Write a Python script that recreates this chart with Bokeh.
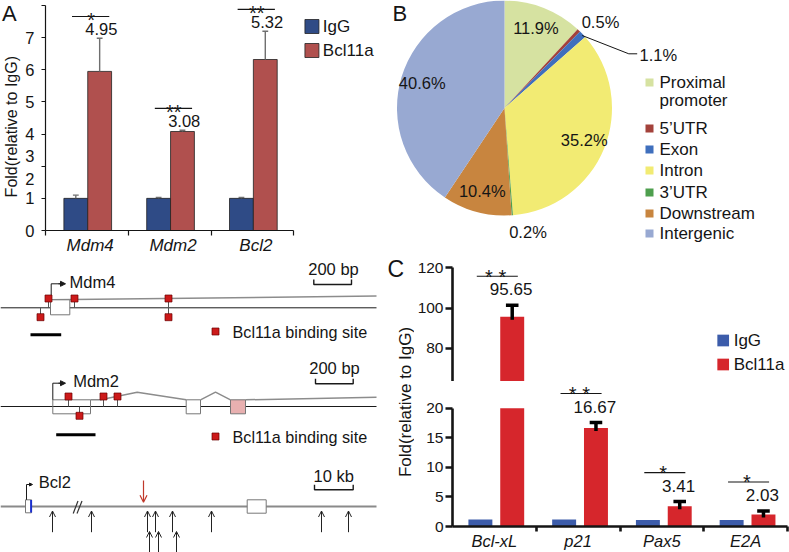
import numpy as np
from bokeh.plotting import figure
from bokeh.models import (Range1d, FixedTicker, Arrow, NormalHead, OpenHead, ColumnDataSource)
from bokeh.layouts import row, column
from bokeh.embed import file_html
from bokeh.resources import INLINE
from bokeh.core.properties import value

# ---------------------------------------------------------------- data
A_genes = ["Mdm4", "Mdm2", "Bcl2"]
A_igg = [1.0, 1.0, 1.0]
A_igg_err = [0.10, 0.03, 0.03]
A_bcl = [4.95, 3.08, 5.32]
A_bcl_err = [1.03, 0.04, 0.88]
A_bcl_labels = ["4.95", "3.08", "5.32"]
A_sig = ["*", "**", "**"]
A_tick_marks = [0, 1, 2, 3, 4, 5, 6, 7]
A_tick_label_pos = [0, 1, 1.6, 2.33, 3, 4, 5, 6]
A_tick_label_text = ["0", "1", "2", "3", "4", "5", "6", "7"]

B_categories = ["Proximal promoter", "5\u2019UTR", "Exon", "Intron", "3\u2019UTR",
                "Downstream", "Intergenic"]
B_percent = [11.9, 0.5, 1.1, 35.2, 0.2, 10.4, 40.6]
B_colors = ["#D6E2A1", "#A3423B", "#3F6FBD", "#F2EB73", "#4E9F4E", "#C8853F", "#98A9D2"]

C_genes = ["Bcl-xL", "p21", "Pax5", "E2A"]
C_igg = [1.2, 1.2, 1.1, 1.1]
C_bcl = [95.65, 16.67, 3.41, 2.03]
C_bcl_err = [5.7, 0.9, 0.8, 0.6]
C_bcl_labels = ["95.65", "16.67", "3.41", "2.03"]
C_sig = ["* *", "* *", "*", "*"]
C_lower_ticks = [0, 5, 10, 15, 20]
C_upper_ticks = [60, 80, 100, 120]

# schematic positions (scheme units)
MDM4_SITES_UP = [48, 74, 168]
MDM4_SITES_DOWN = [40, 168]
MDM2_SITES_UP = [68, 103, 117]
MDM2_SITES_DOWN = [79]
BCL2_ARROWS_ROW1 = [52, 91, 147, 155, 172, 211, 321, 348]
BCL2_ARROWS_ROW2 = [149, 158, 176]
BCL2_PEAK = [143]

# ---------------------------------------------------------------- helpers
FONT = "Liberation Sans"
INK = "#151515"


def fs(px):
    return f"{px:.1f}px"


def base_fig(w, h, xr, yr, **kw):
    p = figure(width=w, height=h, x_range=xr, y_range=yr, output_backend="svg",
               toolbar_location=None, tools="", **kw)
    p.outline_line_color = None
    p.grid.visible = False
    p.background_fill_color = "white"
    p.border_fill_color = "white"
    return p


def txt(p, x, y, text, size, align="left", baseline="middle", color=INK,
        style="normal", angle=0.0):
    p.text(x=x, y=y, text=text, text_font=value(FONT), text_font_size=fs(size),
           text_align=align, text_baseline=baseline, text_color=color,
           text_font_style=style, angle=angle)


def style_axis(ax, size, lw, tick_out, standoff, italic=False):
    ax.axis_label = None
    ax.axis_label_standoff = 0
    ax.axis_line_width = lw
    ax.axis_line_color = INK
    ax.major_tick_line_width = lw
    ax.major_tick_line_color = INK
    ax.major_tick_out = tick_out
    ax.major_tick_in = 0
    ax.minor_tick_line_width = lw
    ax.minor_tick_line_color = INK
    ax.minor_tick_in = 0
    ax.minor_tick_out = 0
    ax.major_label_text_font = FONT
    ax.major_label_text_font_size = fs(size)
    ax.major_label_text_color = INK
    ax.major_label_text_line_height = 1.0
    ax.major_label_standoff = standoff
    if italic:
        ax.major_label_text_font_style = "italic"


# ---------------------------------------------------------------- panel A
A_PXU, A_PYU, A_X0, A_Y0 = 83.3, 32.14, 43.0, 230.0


def ax_u(px):
    return (px - A_X0) / A_PXU + 0.46


def ay_u(py):
    return (A_Y0 - py) / A_PYU


wAL, hA = 22, 257
wA = 386 - wAL
# side strip with panel letter and y-axis title
pAL = base_fig(wAL, hA, Range1d(0, wAL), Range1d(hA, 0), min_border=0,
               x_axis_location=None, y_axis_location=None)
txt(pAL, [1.5], [1], ["A"], 22, baseline="top")
txt(pAL, [10.5], [141], ["Fold(relative to IgG)"], 16, align="center", angle=np.pi / 2)

pA = base_fig(wA, hA, Range1d(0.46, ax_u(386)), Range1d(0, ay_u(0)),
              min_border_left=round(A_X0) - wAL, min_border_right=0, min_border_top=0,
              min_border_bottom=hA - round(A_Y0))
ax_ = np.arange(1, len(A_genes) + 1)
igg_x = ax_ - 0.03 - 0.144
bcl_x = ax_ - 0.03 + 0.144
IGG_A, BCL_A = "#2F4B86", "#B0504E"
pA.vbar(x=igg_x, width=0.288, top=A_igg, bottom=0, fill_color=IGG_A, line_color="#222", line_width=0.8)
pA.vbar(x=bcl_x, width=0.288, top=A_bcl, bottom=0, fill_color=BCL_A, line_color="#222", line_width=0.8)
for xs, vals, errs in ((igg_x, A_igg, A_igg_err), (bcl_x, A_bcl, A_bcl_err)):
    v = np.array(vals); e = np.array(errs)
    pA.segment(x0=xs, y0=v, x1=xs, y1=v + e, line_color="#6f6f6f", line_width=1.4)
    pA.segment(x0=xs - 0.035, y0=v + e, x1=xs + 0.035, y1=v + e, line_color="#6f6f6f", line_width=1.4)
line_y = np.array(A_bcl) + np.array(A_bcl_err) + 0.68
pA.segment(x0=ax_ - 0.22, y0=line_y, x1=ax_ + 0.23, y1=line_y, line_color=INK, line_width=1.1)
txt(pA, list(ax_ + 0.01), list(line_y - 3.5 / A_PYU), A_sig, 20, align="center", baseline="alphabetic")
txt(pA, list(ax_ + 0.135), list(line_y - 0.38), A_bcl_labels, 16.5, align="center")
# legend
pA.rect(x=[ax_u(311)] * 2, y=[ay_u(26), ay_u(50)], width=14, height=14,
        width_units="screen", height_units="screen", fill_color=[IGG_A, BCL_A],
        line_color="#222", line_width=0.8)
txt(pA, [ax_u(322)] * 2, [ay_u(26), ay_u(50)], ["IgG", "Bcl11a"], 17)
# axes
xa = pA.xaxis[0]
style_axis(xa, 17, 1.2, 0, 0, italic=True)
xa.bounds = (0.46, 3.46)
xa.ticker = FixedTicker(ticks=list(ax_), minor_ticks=[0.46, 1.46, 2.46, 3.46])
xa.minor_tick_out = 5
xa.major_label_overrides = {int(i): g for i, g in zip(ax_, A_genes)}
ya = pA.yaxis[0]
style_axis(ya, 16.5, 1.2, 0, 7)
ya.bounds = (0, 7)
ya.ticker = FixedTicker(ticks=A_tick_label_pos, minor_ticks=A_tick_marks)
ya.minor_tick_out = 4
ya.major_label_overrides = dict(zip(A_tick_label_pos, A_tick_label_text))

# ---------------------------------------------------------------- schematics
wD, hD = 386, 552 - hA
pD = base_fig(wD, hD, Range1d(0, wD), Range1d(552, hA),
              min_border=0, x_axis_location=None, y_axis_location=None)
LINE, GRAY, SITE, SITE_LINE = "#1a1a1a", "#8c8c8c", "#CC1A1A", "#6b0000"


def sites(p, xs_up, xs_down, y_main, y_up, y_down):
    for x in xs_up:
        p.segment(x, y_up, x, y_main, line_color="#555", line_width=1)
    for x in xs_down:
        p.segment(x, y_main, x, y_down, line_color="#555", line_width=1)
    xs = list(xs_up) + list(xs_down)
    ys = [y_up] * len(xs_up) + [y_down] * len(xs_down)
    p.rect(x=xs, y=ys, width=7, height=7, fill_color=SITE, line_color=SITE_LINE, line_width=0.7)


def scalebar(p, label, xc, y_text, x0, x1, y_bar):
    txt(p, [xc], [y_text], [label], 16.5, align="center")
    p.line([x0, x0, x1, x1], [y_bar - 5, y_bar, y_bar, y_bar - 5], line_color=LINE, line_width=1.4)


# Mdm4
y4 = 307.3
pD.segment(0, y4, 376, y4, line_color=LINE, line_width=1)
pD.line([50, 376], [299.3, 295.5], line_color=GRAY, line_width=1.5)
pD.quad(left=50, right=69.3, top=299.3, bottom=314.3, fill_color="white", line_color="#777", line_width=1)
pD.line([50.7, 50.7, 60], [299.3, 283.3, 283.3], line_color=LINE, line_width=1)
pD.add_layout(Arrow(x_start=58, y_start=283.3, x_end=65, y_end=283.3, line_color=LINE, line_width=1,
                    end=NormalHead(size=5, fill_color=LINE, line_color=LINE)))
txt(pD, [69], [281.7], ["Mdm4"], 16.5)
sites(pD, MDM4_SITES_UP, MDM4_SITES_DOWN, y4, 298, 316.7)
pD.segment(30, 334.3, 60.7, 334.3, line_color="black", line_width=3)
pD.rect(x=[215], y=[331], width=7, height=7, fill_color=SITE, line_color=SITE_LINE, line_width=0.7)
txt(pD, [232], [331], ["Bcl11a binding site"], 16.2)
scalebar(pD, "200 bp", 333, 268, 313.3, 351, 284)

# Mdm2
y2 = 406
pD.segment(0, y2, 376, y2, line_color=LINE, line_width=1)
pD.quad(left=52.3, right=90, top=399.3, bottom=413.3, fill_alpha=0, line_color="#777", line_width=1)
pD.line([90, 100, 136.7, 185.7], [399.3, 399.3, 391.7, 399.3], line_color=GRAY, line_width=1.5)
pD.line([200, 215, 230], [399.3, 391.7, 399.3], line_color=GRAY, line_width=1.5)
pD.line([245, 376], [399.3, 396.7], line_color=GRAY, line_width=1.5)
pD.quad(left=185.7, right=200, top=399.3, bottom=413.3, fill_color="white", line_color="#777", line_width=1)
pD.quad(left=230, right=245, top=399.3, bottom=413.3, fill_color="#E8B0B0", line_color="#777", line_width=1)
pD.line([52.3, 52.3, 60], [399.3, 382.7, 382.7], line_color=LINE, line_width=1)
pD.add_layout(Arrow(x_start=58, y_start=382.7, x_end=65, y_end=382.7, line_color=LINE, line_width=1,
                    end=NormalHead(size=5, fill_color=LINE, line_color=LINE)))
txt(pD, [72.7], [380], ["Mdm2"], 16.5)
sites(pD, MDM2_SITES_UP, MDM2_SITES_DOWN, y2, 396, 415.3)
pD.segment(55.7, 434.3, 95, 434.3, line_color="black", line_width=3)
pD.rect(x=[215], y=[436], width=7, height=7, fill_color=SITE, line_color=SITE_LINE, line_width=0.7)
txt(pD, [232], [436], ["Bcl11a binding site"], 16.2)
scalebar(pD, "200 bp", 334, 367, 315, 352.7, 383.3)

# Bcl2
y3 = 506
pD.segment(0, y3, 376, y3, line_color="#8a8a8a", line_width=2)
pD.quad(left=25, right=31, top=499.3, bottom=512.3, fill_color="white", line_color="#777", line_width=1)
pD.segment(30.6, 499.6, 30.6, 512, line_color="#1a2ecc", line_width=2)
pD.line([26, 26, 29], [499.3, 484, 484], line_color=LINE, line_width=1)
pD.add_layout(Arrow(x_start=28, y_start=484, x_end=32, y_end=484, line_color=LINE, line_width=1,
                    end=NormalHead(size=3, fill_color=LINE, line_color=LINE)))
txt(pD, [38.3], [481.7], ["Bcl2"], 16.5)
pD.segment(x0=[72.7, 76.5], y0=[513, 513], x1=[77.5, 81.5], y1=[500.5, 500.5], line_color="#333", line_width=1.2)
pD.quad(left=246.7, right=265.7, top=499.3, bottom=512.7, fill_color="white", line_color="#777", line_width=1)
red_src = ColumnDataSource(dict(x=BCL2_PEAK, y0=[480] * len(BCL2_PEAK), y1=[501.7] * len(BCL2_PEAK)))
pD.add_layout(Arrow(x_start="x", y_start="y0", x_end="x", y_end="y1", source=red_src,
                    line_color="#C0392B", line_width=1.2,
                    end=OpenHead(size=7, line_color="#C0392B", line_width=1.2)))
r1 = ColumnDataSource(dict(x=BCL2_ARROWS_ROW1, y0=[531.7] * len(BCL2_ARROWS_ROW1),
                           y1=[510.5] * len(BCL2_ARROWS_ROW1)))
r2 = ColumnDataSource(dict(x=BCL2_ARROWS_ROW2, y0=[553] * len(BCL2_ARROWS_ROW2),
                           y1=[531] * len(BCL2_ARROWS_ROW2)))
for src in (r1, r2):
    pD.add_layout(Arrow(x_start="x", y_start="y0", x_end="x", y_end="y1", source=src,
                        line_color="#222", line_width=1,
                        end=OpenHead(size=6, line_color="#222", line_width=1)))
scalebar(pD, "10 kb", 333.3, 475, 314, 352.7, 489.3)

# ---------------------------------------------------------------- panel B
wB, hB = 403, 252
pB = base_fig(wB, hB, Range1d(386, 386 + wB), Range1d(hB, 0),
              min_border=0, x_axis_location=None, y_axis_location=None)
CX, CY, R = 504, 107.5, 107.5
frac = np.array(B_percent) / sum(B_percent)
cum = np.concatenate([[0.0], np.cumsum(frac)])
start = np.pi / 2 - cum[:-1] * 2 * np.pi
end = np.pi / 2 - cum[1:] * 2 * np.pi
pB.wedge(x=CX, y=CY, radius=R, start_angle=start, end_angle=end, direction="clock",
         fill_color=B_colors, line_color=None)
mid = (cum[:-1] + cum[1:]) / 2 * 2 * np.pi
lx = CX + 0.8 * R * np.sin(mid)
ly = CY - 0.8 * R * np.cos(mid)
big = [i for i, v in enumerate(B_percent) if v > 5]
txt(pB, [lx[i] for i in big], [ly[i] for i in big], [f"{B_percent[i]}%" for i in big], 16.5,
    align="center")
# small slices: outside labels
txt(pB, [600, 527.5], [21, 231], [f"{B_percent[1]}%", f"{B_percent[4]}%"], 16.5, align="center")
txt(pB, [639], [54.3], [f"{B_percent[2]}%"], 16.5)
pB.line([581.7, 628.3, 636.7], [35, 53.3, 53.3], line_color=INK, line_width=1)
# legend
leg_y = [82, 128, 149, 170, 192, 213, 233]
pB.rect(x=[649] * len(leg_y), y=leg_y, width=8, height=8, fill_color=B_colors, line_color=None)
leg_text = [c.split(" ")[0] for c in B_categories]
txt(pB, [659] * len(leg_y), leg_y, leg_text, 17)
txt(pB, [659], [100], [B_categories[0].split(" ")[1]], 17)
txt(pB, [392], [0], ["B"], 22, baseline="top")

# ---------------------------------------------------------------- panel C
TOP_C = hB
SPLIT_C = 381
C_PXU, C_X0 = 84.0, 451.0
C_UP_PX, C_UP_Y60 = 2.02, 388.3
C_LO_Y20 = 407.7
C_X_PANEL = 26                     # room taken by the lower x axis
C_LO_Y0 = 552 - C_X_PANEL
C_LO_PX = (C_LO_Y0 - C_LO_Y20) / 20


def cx_u(px):
    return (px - C_X0) / C_PXU + 0.5


def cu_y(py):
    return 60 + (C_UP_Y60 - py) / C_UP_PX


def cl_y(py):
    return (C_LO_Y0 - py) / C_LO_PX


wCL = 28
wC = 789 - 386 - wCL
hCU = SPLIT_C - hB
hCLo = 552 - SPLIT_C

pCL = base_fig(wCL, 552 - TOP_C, Range1d(386, 386 + wCL), Range1d(552, TOP_C),
               min_border=0, x_axis_location=None, y_axis_location=None)
txt(pCL, [404.5], [401.5], ["Fold(relative to IgG)"], 17, align="center", angle=np.pi / 2)
txt(pCL, [387], [255], ["C"], 23, baseline="top")

xr = Range1d(0.5, cx_u(789))
mbl = round(C_X0) - (386 + wCL)
pCU = base_fig(wC, hCU, xr, Range1d(cu_y(SPLIT_C), cu_y(TOP_C)), x_axis_location=None,
               min_border_left=mbl, min_border_right=0, min_border_top=0, min_border_bottom=0)
pCLo = base_fig(wC, hCLo, xr, Range1d(0, cl_y(SPLIT_C)),
                min_border_left=mbl, min_border_right=0, min_border_top=0,
                min_border_bottom=C_X_PANEL)
cx = np.arange(1, len(C_genes) + 1)
c_igg_x = cx + 0.023 - 0.19
c_bcl_x = cx + 0.023 + 0.19
IGG_C, BCL_C = "#3C5CAA", "#D6262C"
bcl = np.array(C_bcl); err = np.array(C_bcl_err)
# lower segment
pCLo.vbar(x=c_igg_x, width=0.286, top=C_igg, bottom=0, fill_color=IGG_C, line_color=None)
pCLo.vbar(x=c_bcl_x, width=0.286, top=np.minimum(bcl, 20), bottom=0, fill_color=BCL_C, line_color=None)
# upper segment (values above the break)
up = bcl > 60
pCU.vbar(x=c_bcl_x[up], width=0.286, top=bcl[up], bottom=60, fill_color=BCL_C, line_color=None)
for p, scale in ((pCU, C_UP_PX), (pCLo, C_LO_PX)):
    p.segment(x0=c_bcl_x, y0=bcl - 3 / scale, x1=c_bcl_x, y1=bcl + err, line_color="black", line_width=3.5)
    p.segment(x0=c_bcl_x - 0.075, y0=bcl + err, x1=c_bcl_x + 0.075, y1=bcl + err,
              line_color="black", line_width=3.5)
cap = bcl + err
seg_up = cap > 20
scl = np.where(seg_up, C_UP_PX, C_LO_PX)
c_line = cap + 29 / scl
for p, mask in ((pCU, seg_up), (pCLo, ~seg_up)):
    p.segment(x0=cx[mask] - 0.21, y0=c_line[mask], x1=cx[mask] + 0.28, y1=c_line[mask],
              line_color=INK, line_width=1.1)
    txt(p, list(cx[mask] + 0.015), list((c_line - 0.5 / scl)[mask]),
        [s for s, m in zip(C_sig, mask) if m], 20, align="center", baseline="alphabetic")
    txt(p, list(cx[mask] + 0.2), list((c_line - 13 / scl)[mask]),
        [s for s, m in zip(C_bcl_labels, mask) if m], 17, align="center")
# legend (upper segment)
pCU.rect(x=[cx_u(722.5)] * 2, y=[cu_y(340), cu_y(364)], width=11.7, height=11.7,
         width_units="screen", height_units="screen", fill_color=[IGG_C, BCL_C], line_color=None)
txt(pCU, [cx_u(733)] * 2, [cu_y(340), cu_y(364)], ["IgG", "Bcl11a"], 17)
# axes
yu = pCU.yaxis[0]
style_axis(yu, 15.5, 2.6, 7, 2)
yu.bounds = (60, 120)
yu.ticker = FixedTicker(ticks=C_upper_ticks, minor_ticks=[])
yl = pCLo.yaxis[0]
style_axis(yl, 15.5, 2.6, 7, 2)
yl.bounds = (0, 20)
yl.ticker = FixedTicker(ticks=C_lower_ticks, minor_ticks=[])
xl = pCLo.xaxis[0]
style_axis(xl, 16.5, 2.6, 0, 0, italic=True)
xl.bounds = (0.5, 4.5)
xl.ticker = FixedTicker(ticks=list(cx), minor_ticks=[1.5, 2.5, 3.5, 4.5])
xl.minor_tick_out = 5
xl.major_label_overrides = {int(i): g for i, g in zip(cx, C_genes)}

# ---------------------------------------------------------------- layout
layout = row(column(row(pAL, pA), pD), column(pB, row(pCL, column(pCU, pCLo))))
open("out.html", "w").write(file_html(layout, INLINE))
